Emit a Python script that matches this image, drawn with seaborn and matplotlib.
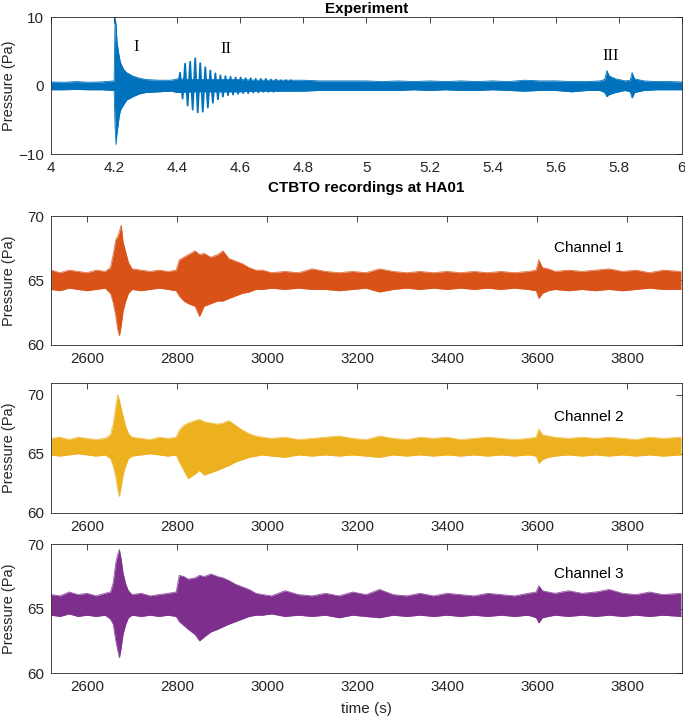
import numpy as np
import pandas as pd
import matplotlib
matplotlib.use("Agg")
import matplotlib.pyplot as plt
import seaborn as sns

# ---------------- data ----------------
# Experiment: noise envelope
exp_t = [4.00, 4.04, 4.08, 4.12, 4.16, 4.200, 4.203, 4.206, 4.209, 4.212, 4.216, 4.220,
         4.230, 4.240, 4.260, 4.280, 4.300, 4.340, 4.380, 4.400, 4.450, 4.500, 4.550,
         4.600, 4.650, 4.700, 4.750, 4.800, 4.850, 4.900, 4.950, 5.000, 5.050, 5.100,
         5.150, 5.200, 5.250, 5.300, 5.350, 5.400, 5.450, 5.500, 5.550, 5.600, 5.650,
         5.700, 5.740, 5.755, 5.762, 5.770, 5.790, 5.820, 5.836, 5.842, 5.850, 5.880,
         5.920, 5.960, 6.000]
exp_hi = [0.55, 0.5, 0.6, 0.5, 0.55, 0.7, 10.0, 9.0, 6.5, 5.5, 4.3, 3.4,
          2.4, 1.9, 1.4, 1.1, 0.9, 0.8, 0.8, 1.0, 0.9, 0.9, 0.9,
          0.9, 0.8, 0.8, 0.8, 0.8, 0.7, 0.7, 0.7, 0.7, 0.6, 0.7,
          0.6, 0.7, 0.6, 0.7, 0.6, 0.7, 0.6, 0.8, 0.7, 0.7, 0.6,
          0.6, 0.7, 0.9, 2.2, 1.4, 1.0, 0.7, 0.8, 1.9, 1.0, 0.7,
          0.6, 0.6, 0.55]
exp_lo = [-0.6, -0.6, -0.55, -0.6, -0.6, -0.7, -6.0, -8.6, -7.0, -6.0, -4.5, -3.6,
          -2.8, -2.1, -1.6, -1.2, -1.0, -0.9, -0.8, -1.0, -0.9, -0.9, -0.9,
          -0.9, -0.8, -0.8, -0.8, -0.8, -0.7, -0.7, -0.7, -0.7, -0.7, -0.7,
          -0.6, -0.7, -0.6, -0.7, -0.7, -0.6, -0.7, -0.8, -0.7, -0.7, -0.9,
          -0.7, -0.7, -1.0, -1.6, -1.3, -1.0, -0.7, -0.9, -1.8, -1.0, -0.7,
          -0.6, -0.6, -0.6]

# Experiment: region II oscillation peaks and troughs
osc_t = [4.403, 4.409, 4.417, 4.425, 4.433, 4.441, 4.449, 4.457, 4.465, 4.473,
         4.481, 4.489, 4.497, 4.505, 4.513, 4.521, 4.529, 4.537, 4.545, 4.553,
         4.561, 4.569, 4.577, 4.585, 4.593, 4.601, 4.609, 4.617, 4.625, 4.633,
         4.641, 4.649, 4.657, 4.665, 4.673, 4.681, 4.689, 4.697, 4.705, 4.713,
         4.721, 4.729, 4.737, 4.745, 4.753, 4.761, 4.769, 4.777]
osc_v = [0.0, 1.9, -1.9, 3.2, -2.9, 3.5, -3.5, 4.0, -3.9, 3.3,
         -3.8, 2.7, -3.2, 2.2, -2.5, 1.8, -2.0, 1.5, -1.6, 1.4,
         -1.4, 1.3, -1.3, 1.2, -1.2, 1.2, -1.1, 1.1, -1.1, 1.1,
         -1.0, 1.0, -1.0, 1.0, -0.9, 1.0, -0.9, 0.9, -0.9, 0.9,
         -0.8, 0.8, -0.8, 0.8, -0.8, 0.8, -0.7, 0.0]

# CTBTO HA01: envelopes of the three channels
ct_t = [2520, 2540, 2560, 2580, 2600, 2620, 2640, 2652, 2658, 2664, 2668, 2672,
        2676, 2680, 2686, 2692, 2700, 2720, 2740, 2760, 2780, 2798, 2805, 2815,
        2825, 2840, 2850, 2860, 2875, 2890, 2902, 2915, 2930, 2945, 2960, 2975,
        2990, 3010, 3040, 3070, 3100, 3130, 3160, 3190, 3220, 3250, 3280, 3310,
        3340, 3370, 3400, 3430, 3460, 3490, 3520, 3550, 3580, 3598, 3604, 3612,
        3625, 3640, 3670, 3700, 3730, 3760, 3790, 3820, 3850, 3880, 3920]

ch1_hi = [65.8, 65.6, 65.8, 65.7, 65.6, 65.8, 65.7, 66.0, 67.0, 68.2, 68.4, 68.8,
          69.3, 68.0, 67.2, 66.4, 65.9, 65.8, 65.7, 65.8, 65.7, 65.8, 66.6, 66.8,
          67.0, 67.3, 67.0, 67.1, 66.8, 67.0, 67.3, 66.7, 66.5, 66.3, 66.0, 65.8,
          65.8, 65.6, 65.7, 65.6, 65.9, 65.7, 65.6, 65.7, 65.6, 65.9, 65.7, 65.6,
          65.7, 65.6, 65.7, 65.6, 65.7, 65.6, 65.7, 65.6, 65.7, 65.8, 66.6, 66.0,
          65.9, 65.7, 65.8, 65.7, 65.8, 65.9, 65.7, 65.8, 65.6, 65.8, 65.7]
ch1_lo = [64.3, 64.2, 64.4, 64.3, 64.2, 64.3, 64.4, 64.0, 63.3, 62.2, 61.2, 60.7,
          61.5, 62.6, 63.4, 64.0, 64.3, 64.2, 64.3, 64.4, 64.3, 64.2, 63.8, 63.4,
          63.2, 63.0, 62.2, 63.0, 63.2, 63.4, 63.4, 63.6, 63.8, 64.0, 64.1, 64.3,
          64.3, 64.4, 64.3, 64.4, 64.3, 64.3, 64.2, 64.3, 64.4, 64.1, 64.3, 64.4,
          64.3, 64.4, 64.3, 64.4, 64.3, 64.4, 64.3, 64.4, 64.3, 64.2, 63.6, 64.0,
          64.2, 64.3, 64.2, 64.3, 64.2, 64.3, 64.2, 64.3, 64.4, 64.3, 64.3]

ch2_hi = [66.3, 66.4, 66.2, 66.4, 66.3, 66.2, 66.3, 66.6, 67.5, 69.0, 70.0, 69.5,
          68.8, 68.2, 67.3, 66.7, 66.4, 66.3, 66.2, 66.4, 66.3, 66.4, 67.0, 67.4,
          67.6, 67.8, 67.9, 67.7, 67.6, 67.5, 67.6, 67.8, 67.4, 67.0, 66.7, 66.5,
          66.4, 66.3, 66.4, 66.2, 66.3, 66.4, 66.5, 66.3, 66.2, 66.5, 66.3, 66.2,
          66.4, 66.3, 66.4, 66.2, 66.3, 66.4, 66.3, 66.2, 66.3, 66.4, 67.1, 66.6,
          66.5, 66.4, 66.3, 66.4, 66.3, 66.4, 66.3, 66.2, 66.4, 66.3, 66.4]
ch2_lo = [64.9, 64.8, 64.9, 65.0, 64.9, 64.8, 64.9, 64.6, 64.0, 63.0, 62.0, 61.4,
          62.3, 63.2, 64.0, 64.6, 64.8, 64.9, 65.0, 64.9, 64.8, 64.9, 64.3, 63.6,
          62.9, 63.3, 63.6, 63.2, 63.4, 63.6, 63.8, 64.0, 64.3, 64.5, 64.7, 64.8,
          64.9, 64.8, 64.7, 64.9, 64.8, 64.9, 64.8, 64.9, 64.8, 64.7, 64.9, 64.8,
          64.9, 64.8, 64.9, 64.8, 64.9, 64.8, 64.9, 64.8, 64.9, 64.8, 64.2, 64.5,
          64.7, 64.8, 64.9, 64.8, 64.9, 64.8, 64.9, 64.8, 64.9, 64.8, 64.9]

ch3_hi = [66.1, 66.0, 66.3, 66.1, 66.2, 66.0, 66.2, 66.3, 67.0, 68.6, 69.2, 69.6,
          68.8, 67.8, 66.9, 66.4, 66.1, 66.2, 66.0, 66.1, 66.2, 66.3, 67.6, 67.5,
          67.3, 67.4, 67.6, 67.5, 67.7, 67.5, 67.4, 67.2, 66.9, 66.7, 66.5, 66.2,
          66.1, 66.0, 66.4, 66.1, 66.0, 66.2, 66.0, 66.3, 66.1, 66.5, 66.1, 66.0,
          66.2, 66.0, 66.2, 66.1, 66.0, 66.2, 66.1, 66.0, 66.2, 66.3, 66.8, 66.4,
          66.3, 66.2, 66.4, 66.2, 66.3, 66.5, 66.2, 66.1, 66.3, 66.1, 66.2]
ch3_lo = [64.5, 64.4, 64.6, 64.4, 64.5, 64.4, 64.5, 64.2, 63.8, 62.5, 61.8, 61.2,
          62.0, 63.0, 63.8, 64.3, 64.5, 64.4, 64.5, 64.4, 64.5, 64.4, 64.0, 63.7,
          63.4, 63.0, 62.5, 62.8, 63.2, 63.4, 63.6, 63.8, 64.0, 64.2, 64.4, 64.5,
          64.5, 64.6, 64.4, 64.5, 64.4, 64.5, 64.3, 64.5, 64.4, 64.3, 64.5, 64.4,
          64.5, 64.4, 64.5, 64.4, 64.5, 64.4, 64.5, 64.4, 64.5, 64.3, 63.9, 64.3,
          64.4, 64.5, 64.4, 64.5, 64.4, 64.5, 64.4, 64.5, 64.4, 64.5, 64.4]

channel_names = ["Channel 1", "Channel 2", "Channel 3"]
channel_colors = ["#D95319", "#EDB120", "#7E2F8E"]
exp_color = "#0072BD"

exp_xticks = [4, 4.2, 4.4, 4.6, 4.8, 5, 5.2, 5.4, 5.6, 5.8, 6]
exp_xticklabels = ["4", "4.2", "4.4", "4.6", "4.8", "5", "5.2", "5.4", "5.6", "5.8", "6"]
ct_xticks = [2600, 2800, 3000, 3200, 3400, 3600, 3800]
region_labels = ["I", "II", "III"]
region_x = [4.27, 4.555, 5.775]
region_y = [5.6, 5.3, 4.4]

# ---------------- style ----------------
sns.set_style("white")
plt.rcParams['font.family'] = ['Liberation Sans', 'DejaVu Sans']
plt.rcParams['font.size'] = 11
TXT = "#262626"

fig = plt.figure(figsize=(6.85, 7.2), dpi=100)

L, W = 0.0745, 0.921
pos = [
    (L, 0.786, W, 0.190),
    (L, 0.521, W, 0.179),
    (L, 0.2875, W, 0.181),
    (L, 0.065, W, 0.179),
]
axes = [fig.add_axes(p) for p in pos]


def style(ax):
    for s in ax.spines.values():
        s.set_color(TXT)
        s.set_linewidth(0.6)
    ax.tick_params(direction='in', length=4, width=0.6, top=True, right=True,
                   labelsize=11, colors=TXT, pad=5)
    ax.set_ylabel("Pressure (Pa)", fontsize=10.5, color=TXT)
    ax.yaxis.set_label_coords(-0.056, 0.5)
    ax.set_xlabel("")


# top: experiment
ax = axes[0]
df_exp = pd.DataFrame({"t": exp_t, "hi": exp_hi, "lo": exp_lo})
ax.fill_between(df_exp["t"], df_exp["lo"], df_exp["hi"], color=exp_color, lw=0)
sns.lineplot(data=df_exp, x="t", y="hi", ax=ax, color=exp_color, lw=0.6, estimator=None)
sns.lineplot(data=df_exp, x="t", y="lo", ax=ax, color=exp_color, lw=0.6, estimator=None)
df_osc = pd.DataFrame({"t": osc_t, "p": osc_v})
sns.lineplot(data=df_osc, x="t", y="p", ax=ax, color=exp_color, lw=1.3,
             estimator=None, sort=False)
ax.set_xlim(4, 6)
ax.set_ylim(-10, 10)
ax.set_yticks([-10, 0, 10])
ax.set_xticks(exp_xticks)
ax.set_xticklabels(exp_xticklabels)
for lab, x, y in zip(region_labels, region_x, region_y):
    ax.text(x, y, lab, family=['Liberation Serif', 'DejaVu Serif'], fontsize=12,
            ha='center', va='center', color='black')
style(ax)

# CTBTO channels
his = [ch1_hi, ch2_hi, ch3_hi]
los = [ch1_lo, ch2_lo, ch3_lo]
ylims = [(60, 70), (60, 71), (60, 70)]
label_y = [67.5, 68.1, 67.7]
for i in range(3):
    ax = axes[i + 1]
    df = pd.DataFrame({"t": ct_t, "hi": his[i], "lo": los[i]})
    c = channel_colors[i]
    ax.fill_between(df["t"], df["lo"], df["hi"], color=c, lw=0)
    sns.lineplot(data=df, x="t", y="hi", ax=ax, color=c, lw=0.6, estimator=None, alpha=0.8)
    sns.lineplot(data=df, x="t", y="lo", ax=ax, color=c, lw=0.6, estimator=None, alpha=0.8)
    ax.set_xlim(2520, 3922)
    ax.set_ylim(*ylims[i])
    ax.set_yticks([60, 65, 70])
    ax.set_xticks(ct_xticks)
    ax.text(3715, label_y[i], channel_names[i], fontsize=11, ha='center', va='center',
            color='black')
    style(ax)

axes[3].set_xlabel("time (s)", fontsize=11, color=TXT)
axes[3].xaxis.set_label_coords(0.5, -0.225)

xc = L + W / 2
fig.text(xc, 1 - 9 / 720, "Experiment", ha='center', va='center', fontsize=11,
         fontweight='bold', color='black')
fig.text(xc, 1 - 188 / 720, "CTBTO recordings at HA01", ha='center', va='center',
         fontsize=11, fontweight='bold', color='black')

fig.savefig("out.png", dpi=100)
